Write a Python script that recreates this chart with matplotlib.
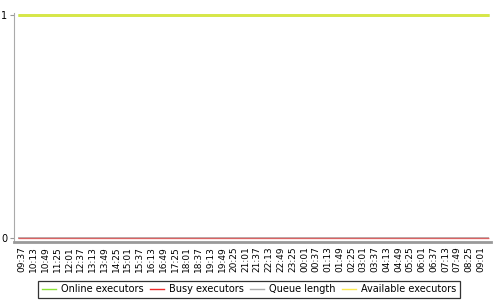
import numpy as np
import matplotlib
matplotlib.use("Agg")
import matplotlib.pyplot as plt

# Zeitachse (alle 36 Minuten beschriftet)
times = ['09:37', '10:13', '10:49', '11:25', '12:01', '12:37', '13:13', '13:49',
         '14:25', '15:01', '15:37', '16:13', '16:49', '17:25', '18:01', '18:37',
         '19:13', '19:49', '20:25', '21:01', '21:37', '22:13', '22:49', '23:25',
         '00:01', '00:37', '01:13', '01:49', '02:25', '03:01', '03:37', '04:13',
         '04:49', '05:25', '06:01', '06:37', '07:13', '07:49', '08:25', '09:01']

online = [1, 1, 1, 1, 1, 1, 1, 1, 1, 1, 1, 1, 1, 1, 1, 1, 1, 1, 1, 1,
          1, 1, 1, 1, 1, 1, 1, 1, 1, 1, 1, 1, 1, 1, 1, 1, 1, 1, 1, 1]
busy = [0, 0, 0, 0, 0, 0, 0, 0, 0, 0, 0, 0, 0, 0, 0, 0, 0, 0, 0, 0,
        0, 0, 0, 0, 0, 0, 0, 0, 0, 0, 0, 0, 0, 0, 0, 0, 0, 0, 0, 0]
queue = [0, 0, 0, 0, 0, 0, 0, 0, 0, 0, 0, 0, 0, 0, 0, 0, 0, 0, 0, 0,
         0, 0, 0, 0, 0, 0, 0, 0, 0, 0, 0, 0, 0, 0, 0, 0, 0, 0, 0, 0]
available = [1, 1, 1, 1, 1, 1, 1, 1, 1, 1, 1, 1, 1, 1, 1, 1, 1, 1, 1, 1,
             1, 1, 1, 1, 1, 1, 1, 1, 1, 1, 1, 1, 1, 1, 1, 1, 1, 1, 1, 1]

plt.rcParams['font.family'] = ['DejaVu Sans']

fig = plt.figure(figsize=(5, 3), dpi=100)
ax = fig.add_axes([14 / 500, 1 - 242 / 300, 477 / 500, 229 / 300])

edges = np.arange(len(times) + 1)
ax.stairs(online, edges, baseline=None, color='#8ae234', lw=2, label='Online executors')
ax.stairs(queue, edges, baseline=None, color='#ababab', lw=1.2, label='Queue length', zorder=2)
ax.stairs(busy, edges, baseline=None, color='#ef2929', lw=1, alpha=0.6, label='Busy executors', zorder=3)
ax.stairs(available, edges, baseline=None, color='#fce94f', lw=2, alpha=0.7, label='Available executors', zorder=3)

ax.set_xlim(-0.34, len(times) + 0.2)
ax.set_ylim(-0.0157, 1.009)

ax.set_xticks(np.arange(len(times)) + 0.34)
ax.set_xticklabels(times, rotation=90, fontsize=6.5)
ax.set_yticks([0, 1])
ax.set_yticklabels(['0', '1'], fontsize=7)
ax.tick_params(axis='x', length=0, pad=3)
ax.tick_params(axis='y', length=3, width=0.8, color='#999999', pad=2)

for s in ['top', 'right']:
    ax.spines[s].set_visible(False)
ax.spines['left'].set_color('#aaaaaa')
ax.spines['left'].set_linewidth(0.8)
ax.spines['bottom'].set_color('#999999')
ax.spines['bottom'].set_linewidth(2)

# Legende in fester Reihenfolge
h, l = ax.get_legend_handles_labels()
order = ['Online executors', 'Busy executors', 'Queue length', 'Available executors']
hs = [h[l.index(o)] for o in order]
leg = fig.legend(hs, order, loc='lower center', bbox_to_anchor=(0.498, 0.0), ncol=4,
                 fontsize=7, frameon=True, fancybox=False, edgecolor='black',
                 handlelength=1.5, handletextpad=0.5, columnspacing=0.6,
                 borderpad=0.35, borderaxespad=0.25)
leg.get_frame().set_linewidth(0.9)
for ln in leg.get_lines():
    ln.set_linewidth(1)
    ln.set_alpha(1)

fig.savefig('out.png', dpi=100)
